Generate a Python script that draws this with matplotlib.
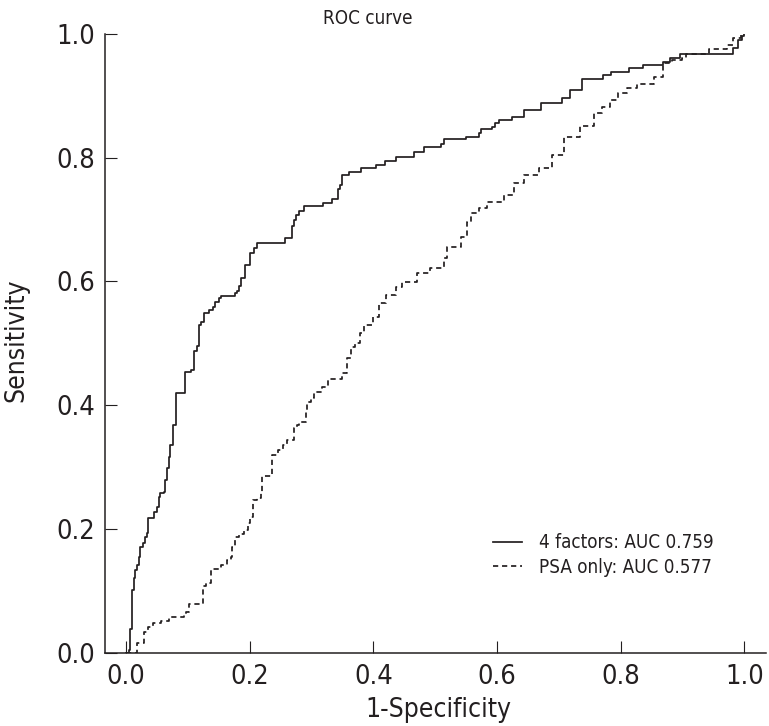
import os
import matplotlib
matplotlib.use("Agg")
import matplotlib.pyplot as plt
from matplotlib import font_manager as fm

title = "ROC curve"
xlabel = "1-Specificity"
ylabel = "Sensitivity"
tick_values = [0.0, 0.2, 0.4, 0.6, 0.8, 1.0]
tick_labels = ["0.0", "0.2", "0.4", "0.6", "0.8", "1.0"]
series_names = ["4 factors: AUC 0.759", "PSA only: AUC 0.577"]

fpr_4f = [0.0, 0.005, 0.007, 0.0097, 0.0124, 0.015, 0.0178, 0.0205, 0.023, 0.027, 0.031, 0.0339,
          0.036, 0.0457, 0.050, 0.0528, 0.0554, 0.0608, 0.063, 0.066, 0.069, 0.0716, 0.0754, 0.0807,
          0.0958, 0.105, 0.110, 0.1146, 0.118, 0.121, 0.1254, 0.1345, 0.140, 0.1437, 0.1496, 0.1533,
          0.176, 0.180, 0.183, 0.1867, 0.192, 0.2007, 0.207, 0.2115, 0.257, 0.269, 0.2717, 0.2755,
          0.2798, 0.288, 0.3186, 0.3336, 0.3427, 0.346, 0.3498, 0.3605, 0.3793, 0.4036, 0.418, 0.436,
          0.465, 0.4816, 0.5096, 0.514, 0.549, 0.5703, 0.574, 0.592, 0.597, 0.6026, 0.624, 0.644,
          0.671, 0.705, 0.718, 0.738, 0.771, 0.784, 0.814, 0.8366, 0.868, 0.8797, 0.896, 0.981,
          0.990, 0.9955, 1.0]
tpr_4f = [0.0, 0.004, 0.039, 0.101, 0.120, 0.134, 0.142, 0.155, 0.171, 0.177, 0.187, 0.193,
          0.217, 0.228, 0.236, 0.252, 0.258, 0.260, 0.279, 0.298, 0.317, 0.336, 0.368, 0.419,
          0.454, 0.457, 0.487, 0.495, 0.530, 0.535, 0.549, 0.554, 0.558, 0.567, 0.573, 0.577,
          0.581, 0.585, 0.592, 0.605, 0.627, 0.646, 0.654, 0.662, 0.671, 0.689, 0.699, 0.707,
          0.714, 0.722, 0.727, 0.733, 0.749, 0.756, 0.772, 0.777, 0.784, 0.789, 0.795, 0.802,
          0.810, 0.817, 0.822, 0.830, 0.834, 0.840, 0.846, 0.850, 0.856, 0.861, 0.866, 0.877,
          0.889, 0.896, 0.9095, 0.928, 0.934, 0.939, 0.9455, 0.950, 0.955, 0.961, 0.967, 0.977,
          0.990, 0.9968, 1.0]

fpr_psa = [0.0, 0.012, 0.017, 0.0285, 0.036, 0.043, 0.0565, 0.070, 0.094, 0.0967, 0.102, 0.1248,
           0.129, 0.137, 0.153, 0.163, 0.1695, 0.172, 0.176, 0.183, 0.191, 0.197, 0.2007, 0.2045,
           0.2125, 0.219, 0.2206, 0.234, 0.2357, 0.245, 0.2545, 0.261, 0.2717, 0.277, 0.2797,
           0.2906, 0.292, 0.2986, 0.304, 0.3175, 0.3266, 0.3498, 0.358, 0.363, 0.371, 0.378, 0.385,
           0.400, 0.409, 0.4197, 0.436, 0.4466, 0.471, 0.492, 0.514, 0.519, 0.541, 0.5515, 0.558,
           0.570, 0.584, 0.6107, 0.627, 0.643, 0.667, 0.689, 0.7075, 0.7345, 0.757, 0.7695, 0.783,
           0.7947, 0.81, 0.826, 0.853, 0.869, 0.8825, 0.8986, 0.905, 0.943, 0.971, 0.981, 0.995, 1.0]
tpr_psa = [0.0, 0.0, 0.015, 0.034, 0.042, 0.0475, 0.0517, 0.057, 0.061, 0.066, 0.079, 0.107,
           0.112, 0.135, 0.142, 0.150, 0.155, 0.171, 0.1875, 0.192, 0.198, 0.209, 0.220, 0.247,
           0.2495, 0.2576, 0.286, 0.287, 0.3195, 0.3276, 0.336, 0.344, 0.3627, 0.368, 0.3734,
           0.3895, 0.4057, 0.411, 0.422, 0.430, 0.442, 0.4516, 0.476, 0.4946, 0.501, 0.516, 0.530,
           0.543, 0.565, 0.578, 0.5916, 0.5997, 0.613, 0.621, 0.6375, 0.656, 0.672, 0.6966, 0.711,
           0.718, 0.729, 0.740, 0.7587, 0.772, 0.783, 0.804, 0.834, 0.851, 0.872, 0.8825, 0.893,
           0.905, 0.912, 0.919, 0.931, 0.9527, 0.958, 0.961, 0.967, 0.975, 0.982, 0.993, 0.9985, 1.0]

# --- choose a narrow / condensed sans if one is installed ---
narrow_file = None
prefs = ["liberationsansnarrow-regular", "dejavusanscondensed", "robotocondensed-regular",
         "opensans_condensed-regular", "opensanscondensed-regular",
         "notosanscondensed-regular", "arialnarrow"]
all_files = [f.fname for f in fm.fontManager.ttflist]
for p in prefs:
    for f in all_files:
        b = os.path.basename(f).lower().replace(" ", "")
        if b.startswith(p) and not any(w in b for w in ("bold", "oblique", "italic")):
            narrow_file = f
            break
    if narrow_file:
        break

if narrow_file:
    fp = fm.FontProperties(fname=narrow_file)
    scale = 1.0
else:
    fp = fm.FontProperties(family="Liberation Sans")
    scale = 0.84

def F(size):
    p = fp.copy()
    p.set_size(size * scale)
    return p

ink = "#231f20"

fig = plt.figure(figsize=(7.69, 7.26), dpi=100)
ax = fig.add_axes([105/769, 1 - 652.7/726, (766-105)/769, (652.7-34)/726])

ax.step(fpr_4f, tpr_4f, where='post', color=ink, lw=1.25, label=series_names[0])
ax.step(fpr_psa, tpr_psa, where='post', color=ink, lw=1.25, linestyle=(0, (3.0, 2.2)),
        label=series_names[1])

ax.set_xlim(-0.034, 1.0348)
ax.set_ylim(0, 1)
ax.set_xticks(tick_values)
ax.set_xticklabels(tick_labels, fontproperties=F(19.5))
ax.set_yticks(tick_values)
ax.set_yticklabels(tick_labels, fontproperties=F(19.5))
for s in ['top', 'right']:
    ax.spines[s].set_visible(False)
for s in ['left', 'bottom']:
    ax.spines[s].set_linewidth(1.1)
    ax.spines[s].set_color(ink)
ax.tick_params(direction='in', length=8.6, width=0.8, colors=ink, pad=7)
ax.tick_params(axis='x', pad=8)

ax.set_xlabel(xlabel, fontproperties=F(19), color=ink, va='center', ha='center')
ax.xaxis.set_label_coords((438 - 105) / 661, (652.7 - 710) / 618.7)
ax.set_ylabel(ylabel, fontproperties=F(19), color=ink, va='center', ha='center')
ax.yaxis.set_label_coords((16 - 105) / 661, (652.7 - 340) / 618.7)
fig.text(368/769, 1 - 18/726, title, fontproperties=F(13.5), color=ink, ha='center', va='center')

leg = ax.legend(loc='center left', bbox_to_anchor=(493/769, 1 - 555/726),
                bbox_transform=fig.transFigure, frameon=False, prop=F(13.5),
                handlelength=1.55, handletextpad=0.9, labelspacing=0.3,
                borderpad=0, borderaxespad=0)
for t in leg.get_texts():
    t.set_color(ink)

fig.savefig("out.png", dpi=100)
